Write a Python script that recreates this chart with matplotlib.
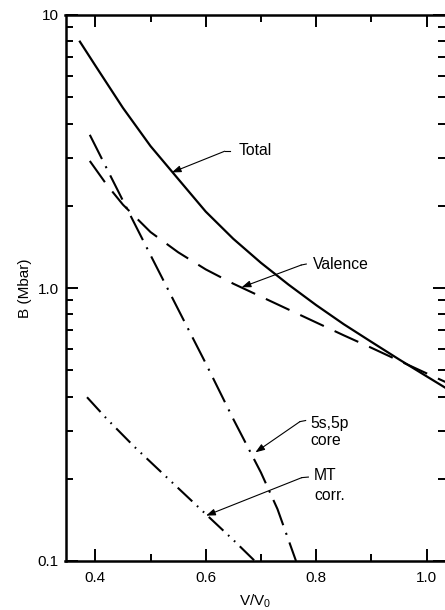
import matplotlib
matplotlib.use('Agg')
import matplotlib.pyplot as plt
from matplotlib.ticker import FixedLocator, FixedFormatter, NullFormatter

plt.rcParams['font.family'] = ['Liberation Sans', 'DejaVu Sans']

# ---------------- data ----------------
v_total = [0.371, 0.40, 0.45, 0.50, 0.55, 0.60, 0.65, 0.70, 0.75, 0.80, 0.85, 0.90, 0.95, 1.00, 1.035]
b_total = [8.05, 6.53, 4.57, 3.31, 2.51, 1.905, 1.514, 1.237, 1.029, 0.866, 0.737, 0.635, 0.548, 0.475, 0.430]

v_valence = [0.39, 0.42, 0.45, 0.50, 0.55, 0.60, 0.65, 0.70, 0.75, 0.80, 0.85, 0.90, 0.95, 1.00, 1.035]
b_valence = [2.92, 2.40, 2.02, 1.603, 1.352, 1.17, 1.037, 0.930, 0.834, 0.748, 0.671, 0.604, 0.542, 0.487, 0.452]

v_core = [0.39, 0.45, 0.50, 0.55, 0.60, 0.65, 0.70, 0.73, 0.7636]
b_core = [3.64, 2.09, 1.32, 0.836, 0.53, 0.331, 0.211, 0.155, 0.1]

v_mt = [0.385, 0.42, 0.47, 0.53, 0.60, 0.65, 0.689]
b_mt = [0.398, 0.333, 0.263, 0.202, 0.1486, 0.1194, 0.1]

x_major = [0.4, 0.6, 0.8, 1.0]
x_major_labels = ['0.4', '0.6', '0.8', '1.0']
x_minor = [0.5, 0.7, 0.9]
y_major = [0.1, 1.0, 10.0]
y_major_labels = ['0.1', '1.0', '10']
y_minor = [m * d for d in (0.1, 1.0) for m in range(2, 10)]

# ---------------- figure ----------------
fig = plt.figure(figsize=(4.45, 6.10), dpi=100)
ax = fig.add_axes([65.5 / 445, 49 / 610, (445 - 65.5) / 445, 546 / 610])

lw = 1.5
ax.plot(v_total, b_total, color='k', lw=1.6, solid_capstyle='butt', solid_joinstyle='round')
ax.plot(v_valence, b_valence, color='k', lw=lw, linestyle=(0, (12.5, 5.7)))
ax.plot(v_core, b_core, color='k', lw=lw, linestyle=(0, (13, 3.9, 1, 3.9)))
ax.plot(v_mt, b_mt, color='k', lw=lw, linestyle=(0, (9.6, 3.1, 0.8, 3.1, 0.8, 3.1)))

ax.set_yscale('log')
ax.set_xlim(0.346, 1.0335)
ax.set_ylim(0.1, 10)

ax.xaxis.set_major_locator(FixedLocator(x_major))
ax.xaxis.set_major_formatter(FixedFormatter(x_major_labels))
ax.xaxis.set_minor_locator(FixedLocator(x_minor))
ax.xaxis.set_minor_formatter(NullFormatter())
ax.yaxis.set_major_locator(FixedLocator(y_major))
ax.yaxis.set_major_formatter(FixedFormatter(y_major_labels))
ax.yaxis.set_minor_locator(FixedLocator(y_minor))
ax.yaxis.set_minor_formatter(NullFormatter())

ax.tick_params(which='both', direction='in', top=True, right=True, width=1.4, colors='k', labelsize=11)
ax.tick_params(which='major', length=8.5)
ax.tick_params(which='minor', length=4.8)
ax.tick_params(axis='x', which='major', pad=7)
ax.tick_params(axis='y', which='major', pad=5)

for side in ('left', 'top', 'bottom'):
    ax.spines[side].set_linewidth(1.8)
ax.spines['right'].set_visible(False)

ax.set_xlabel(r'V/V$\mathregular{_0}$', fontsize=11, labelpad=6)
ax.set_ylabel('B (Mbar)', fontsize=11, labelpad=4)

# ---------------- annotations ----------------
fs = 11.3
arrow_kw = dict(arrowstyle='-|>,head_length=0.55,head_width=0.2', color='k', lw=0.8,
                shrinkA=0, shrinkB=0)

def label(lines, text_pos, lead_start, corner, tip):
    for txt, (tx, ty) in zip(lines, text_pos):
        ax.text(tx, ty, txt, fontsize=fs, ha='left', va='center')
    ax.plot([lead_start[0], corner[0]], [lead_start[1], corner[1]], color='k', lw=0.8)
    ax.annotate('', xy=tip, xytext=corner, arrowprops=arrow_kw)

label(['Total'], [(0.659, 3.18)], (0.6435, 3.17), (0.6344, 3.17), (0.5385, 2.65))
label(['Valence'], [(0.794, 1.224)], (0.7822, 1.224), (0.7732, 1.214), (0.665, 1.006))
label(['5s,5p', 'core'], [(0.789, 0.320), (0.789, 0.276)], (0.781, 0.327), (0.7707, 0.324), (0.690, 0.25))
label(['MT', 'corr.'], [(0.796, 0.205), (0.796, 0.1735)], (0.786, 0.203), (0.774, 0.202), (0.6006, 0.1466))

fig.savefig('out.png', dpi=100)
